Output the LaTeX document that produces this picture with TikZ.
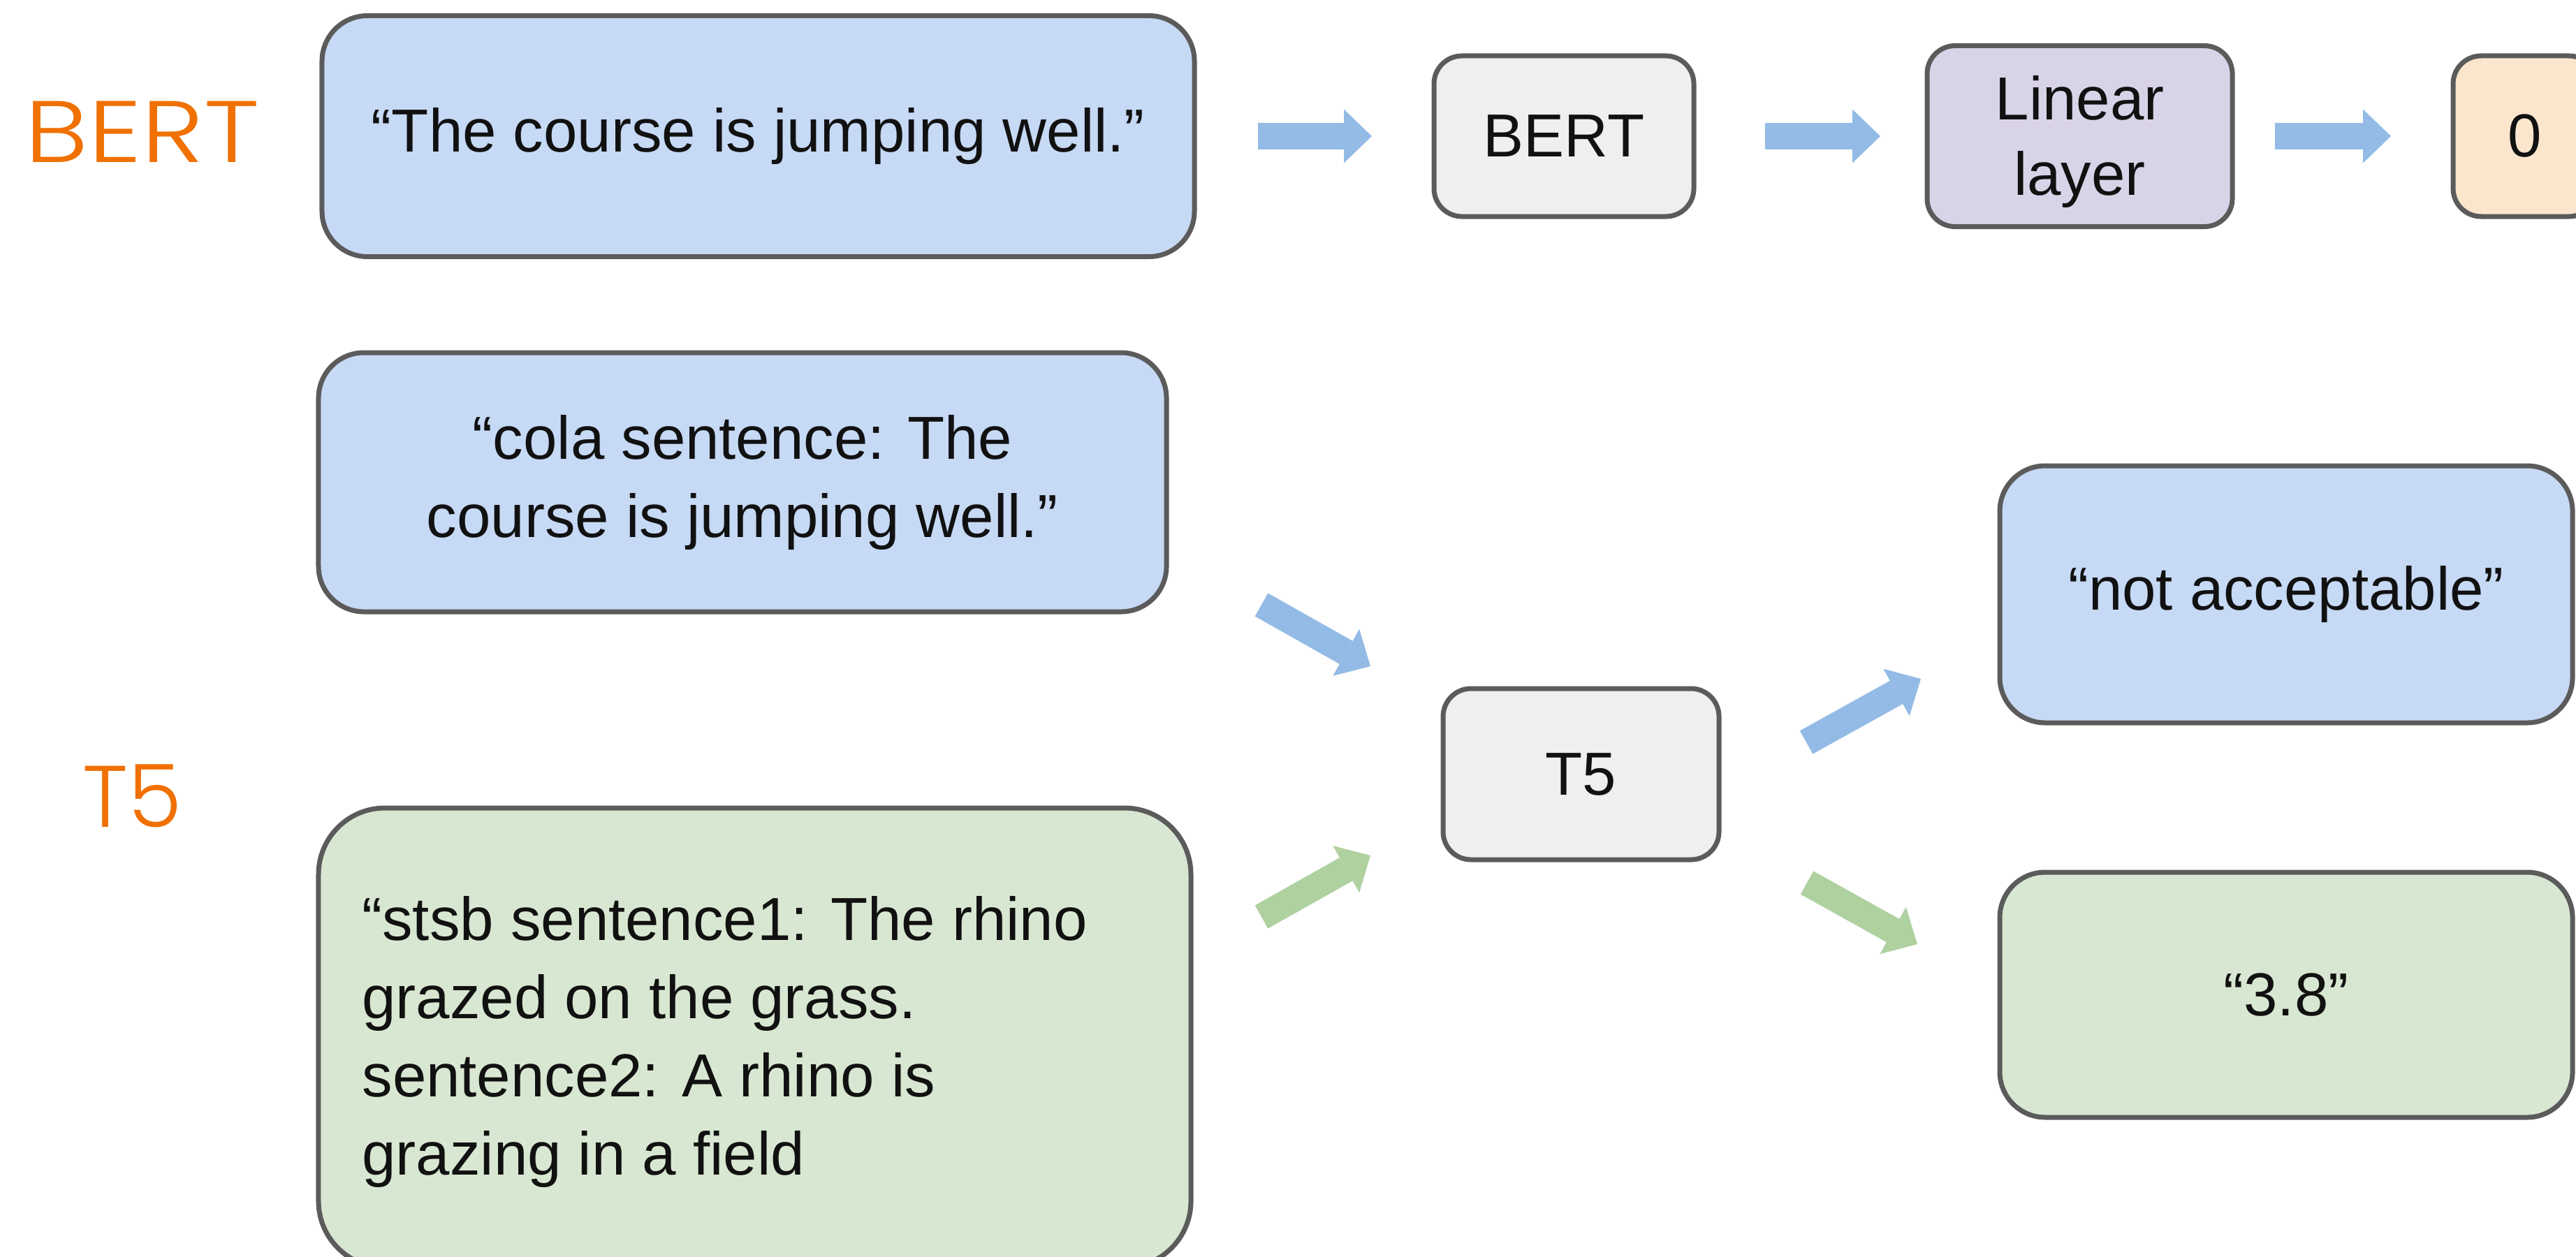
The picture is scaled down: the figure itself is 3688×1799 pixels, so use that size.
\documentclass[tikz,border=0pt]{standalone}
\usepackage{fontspec}
\setmainfont{Liberation Sans}
\newfontfamily\labfont{Poppins Light}
\usetikzlibrary{arrows.meta}

\definecolor{boxline}{HTML}{5B5B5B}
\definecolor{bluefill}{HTML}{C6D9F5}
\definecolor{greenfill}{HTML}{D8E7D1}
\definecolor{grayfill}{HTML}{EFEFEF}
\definecolor{purplefill}{HTML}{D9D3E8}
\definecolor{orangefill}{HTML}{FCE5CD}
\definecolor{bluearrow}{HTML}{93BBE5}
\definecolor{greenarrow}{HTML}{AFD1A0}
\definecolor{labelorange}{HTML}{F07000}
\definecolor{ink}{HTML}{111111}

\tikzset{
  box/.style={draw=boxline, line width=1.4pt, rectangle, inner sep=0pt,
    text=ink, align=center, font=\fontsize{17.4}{22.4}\selectfont},
  bigbox/.style={box, rounded corners=13pt},
  smallbox/.style={box, rounded corners=8pt},
  blockarrow/.style={line width=7.6pt,
    -{Triangle[width=15.4pt,length=8pt,line width=0pt]}},
  tag/.style={text=labelorange, font=\labfont\fontsize{25}{30}\selectfont,
    inner sep=0pt, anchor=base west},
}

\begin{document}
\begin{tikzpicture}[x=0.2pt, y=-0.2pt]
  \useasboundingbox (0,0) rectangle (3688,1799);
  \fill[white] (0,0) rectangle (3688,1799);
  \clip (0,0) rectangle (3688,1799);

  % model labels
  \node[tag] (bertlabel) at (34,232) {\scalebox{1.22}[1]{BERT}};
  \node[tag] (t5label) at (117,1184) {T5};

  % BERT pipeline
  \node[bigbox, fill=bluefill, minimum width=249.8pt, minimum height=69pt]
    (in1) at (1085.5,195) {“The course is jumping well.”};
  \node[smallbox, fill=grayfill, minimum width=74.4pt, minimum height=46pt]
    (bert) at (2239,195) {BERT};
  \node[smallbox, fill=purplefill, minimum width=87.4pt, minimum height=51.8pt,
    font=\fontsize{17.4}{21.6}\selectfont]
    (lin) at (2977.5,195) {\rule{0pt}{16pt}Linear\\layer};
  \node[smallbox, fill=orangefill, minimum width=41.2pt, minimum height=46pt]
    (out0) at (3615,195) {0};

  \draw[blockarrow, bluearrow, shorten <=17.4pt, shorten >=17.1pt] (in1.east) -- (bert.west);
  \draw[blockarrow, bluearrow, shorten <=19.7pt, shorten >=12.7pt] (bert.east) -- (lin.west);
  \draw[blockarrow, bluearrow, shorten <=11.5pt, shorten >=17.1pt] (lin.east) -- (out0.west);

  % T5 text-to-text
  \node[bigbox, fill=bluefill, minimum width=242.8pt, minimum height=74.2pt]
    (in2) at (1063,690.5) {“cola sentence: The\\course is jumping well.”};
  \node[box, rounded corners=19pt, fill=greenfill, minimum width=249.8pt, minimum height=131.6pt]
    (in3) at (1080.5,1486) {};
  \node[box, draw=none, align=left, anchor=west] (in3text) at (515,1492)
    {“stsb sentence1: The rhino\\grazed on the grass.\\sentence2: A rhino is\\grazing in a field};
  \node[smallbox, fill=grayfill, minimum width=79pt, minimum height=49pt]
    (t5) at (2263.5,1108.5) {T5};
  \node[bigbox, fill=bluefill, minimum width=164pt, minimum height=73.6pt]
    (outA) at (3273,851) {“not acceptable”};
  \node[bigbox, fill=greenfill, minimum width=164pt, minimum height=70.2pt]
    (outB) at (3273,1424.5) {“3.8”};

  \coordinate (d1s) at (1806,866);
  \coordinate (d1e) at (1962,954);
  \coordinate (d2s) at (1806,1313);
  \coordinate (d2e) at (1962,1225);
  \coordinate (d3s) at (2586,1063);
  \coordinate (d3e) at (2750,972);
  \coordinate (d4s) at (2587,1264);
  \coordinate (d4e) at (2745,1352);

  \draw[blockarrow, bluearrow] (d1s) -- (d1e);
  \draw[blockarrow, greenarrow] (d2s) -- (d2e);
  \draw[blockarrow, bluearrow] (d3s) -- (d3e);
  \draw[blockarrow, greenarrow] (d4s) -- (d4e);
\end{tikzpicture}
\end{document}
